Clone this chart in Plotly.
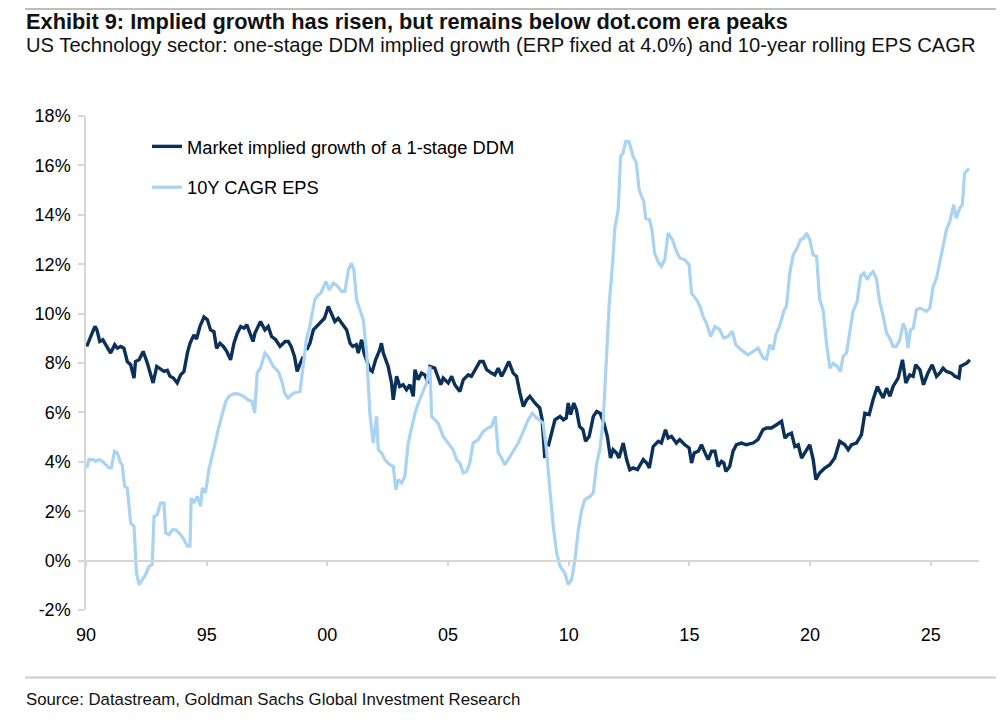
import plotly.graph_objects as go

# ---------------- data ----------------
ddm_years = [
    1990.03, 1990.19, 1990.37, 1990.45, 1990.57, 1990.70, 1990.82, 1991.02, 1991.19, 1991.30,
    1991.44, 1991.57, 1991.71, 1991.85, 1991.99, 1992.05, 1992.20, 1992.37, 1992.54, 1992.65,
    1992.78, 1992.93, 1993.10, 1993.23, 1993.37, 1993.48, 1993.62, 1993.78, 1993.92, 1994.06,
    1994.20, 1994.31, 1994.47, 1994.58, 1994.72, 1994.89, 1995.03, 1995.16, 1995.30, 1995.41,
    1995.55, 1995.69, 1995.83, 1995.99, 1996.13, 1996.27, 1996.41, 1996.55, 1996.66, 1996.82,
    1996.92, 1997.00, 1997.23, 1997.41, 1997.55, 1997.69, 1997.86, 1998.04, 1998.25, 1998.38,
    1998.50, 1998.64, 1998.75, 1998.88, 1999.00, 1999.07, 1999.14, 1999.28, 1999.42, 1999.55,
    1999.72, 1999.88, 2000.04, 2000.17, 2000.31, 2000.45, 2000.59, 2000.80, 2000.94, 2001.05,
    2001.20, 2001.28, 2001.42, 2001.52, 2001.76, 2001.86, 2002.00, 2002.17, 2002.24, 2002.32,
    2002.52, 2002.66, 2002.73, 2002.87, 2003.00, 2003.14, 2003.28, 2003.42, 2003.56, 2003.63,
    2003.76, 2003.90, 2004.04, 2004.18, 2004.25, 2004.45, 2004.70, 2004.80, 2005.01, 2005.15,
    2005.28, 2005.49, 2005.63, 2005.84, 2005.97, 2006.11, 2006.32, 2006.46, 2006.60, 2006.80,
    2006.94, 2007.08, 2007.22, 2007.36, 2007.52, 2007.70, 2007.84, 2007.98, 2008.12, 2008.26,
    2008.39, 2008.60, 2008.80, 2008.90, 2009.01, 2009.08, 2009.15, 2009.29, 2009.43, 2009.64,
    2009.78, 2009.90, 2009.98, 2010.08, 2010.21, 2010.32, 2010.45, 2010.59, 2010.70, 2010.85,
    2011.02, 2011.16, 2011.30, 2011.45, 2011.60, 2011.73, 2011.84, 2011.98, 2012.08, 2012.26,
    2012.40, 2012.53, 2012.67, 2012.85, 2013.09, 2013.23, 2013.34, 2013.50, 2013.71, 2013.84,
    2014.01, 2014.12, 2014.26, 2014.46, 2014.60, 2014.81, 2014.99, 2015.09, 2015.20, 2015.37,
    2015.50, 2015.68, 2015.78, 2015.92, 2016.06, 2016.19, 2016.33, 2016.43, 2016.51, 2016.67,
    2016.81, 2016.95, 2017.16, 2017.36, 2017.64, 2017.84, 2018.05, 2018.19, 2018.40, 2018.61,
    2018.82, 2018.96, 2019.09, 2019.23, 2019.37, 2019.51, 2019.65, 2019.78, 2019.99, 2020.13,
    2020.24, 2020.40, 2020.61, 2020.82, 2021.02, 2021.23, 2021.44, 2021.58, 2021.72, 2021.92,
    2022.13, 2022.27, 2022.45, 2022.61, 2022.79, 2022.92, 2023.03, 2023.17, 2023.31, 2023.44,
    2023.65, 2023.83, 2023.97, 2024.13, 2024.27, 2024.38, 2024.55, 2024.70, 2024.88, 2025.06,
    2025.24, 2025.37, 2025.51, 2025.65, 2025.86, 2026.00, 2026.17, 2026.23, 2026.41, 2026.50,
    2026.62,
]
ddm_growth = [
    8.67, 9.07, 9.48, 9.35, 8.87, 8.94, 8.74, 8.40, 8.74, 8.60,
    8.67, 8.60, 8.06, 7.93, 7.39, 8.06, 8.13, 8.47, 8.00, 7.66,
    7.19, 7.86, 7.73, 7.66, 7.70, 7.46, 7.39, 7.19, 7.52, 7.66,
    8.40, 8.80, 9.14, 8.97, 9.48, 9.86, 9.75, 9.34, 9.27, 8.60,
    8.80, 8.67, 8.47, 8.13, 8.80, 9.21, 9.48, 9.41, 9.55, 9.07,
    8.87, 9.21, 9.68, 9.34, 9.48, 9.07, 8.94, 8.67, 8.87, 8.87,
    8.67, 8.26, 7.66, 7.99, 8.26, None, 8.53, 8.80, 9.34, 9.48,
    9.68, 9.81, 10.29, 10.02, 9.68, 9.81, 9.61, 9.34, 8.80, 8.67,
    8.74, 8.40, 8.94, 8.40, 7.73, 7.66, 8.13, 8.53, 8.80, 8.40,
    7.86, 7.19, 6.51, 7.46, 7.05, 7.12, 6.92, 7.12, 6.65, 7.73,
    7.32, 7.59, 7.52, 7.19, 7.86, 7.79, 7.12, 7.39, 7.19, 7.46,
    7.12, 6.85, 7.32, 7.52, 7.46, 7.73, 8.06, 8.06, 7.73, 7.59,
    7.52, 7.79, 7.46, 7.73, 8.06, 7.59, 7.46, 6.78, 6.24, 6.51,
    6.65, 6.38, 6.18, 5.70, 4.15, None, 4.62, 5.16, 5.70, 5.84,
    5.70, 5.77, 6.38, 5.91, 6.38, 6.11, 5.43, 5.30, 4.83, 5.03,
    5.84, 6.04, 5.97, 5.60, 5.03, 4.15, 4.49, 4.36, 4.15, 4.76,
    4.09, 3.68, 3.75, 3.68, 4.09, 3.95, 3.75, 4.62, 4.83, 4.76,
    5.30, 4.96, 5.03, 4.76, 4.90, 4.69, 4.56, 3.95, 4.36, 4.43,
    4.69, 4.29, 4.09, 4.43, 4.43, 3.81, 4.02, 3.95, 3.61, 3.81,
    4.43, 4.69, 4.76, 4.69, 4.76, 4.90, 5.30, 5.37, 5.37, 5.50,
    5.64, 4.96, 5.10, 5.16, 4.62, 4.69, 4.15, 4.36, 4.69, 4.09,
    3.28, 3.55, 3.75, 3.88, 4.15, 4.83, 4.69, 4.49, 4.69, 4.76,
    5.10, 5.97, 5.91, 6.51, 7.05, 6.78, 6.58, 6.98, 6.65, 7.05,
    7.39, 8.13, 7.19, 7.52, 7.46, 7.93, 7.73, 7.12, 7.59, 7.93,
    7.46, 7.59, 7.79, 7.66, 7.59, 7.46, 7.39, 7.86, 7.93, 8.00,
    8.13,
]

eps_years = [
    1990.03, 1990.12, 1990.30, 1990.40, 1990.55, 1990.68, 1990.95, 1991.05, 1991.18, 1991.30,
    1991.40, 1991.50, 1991.60, 1991.71, 1991.85, 1991.99, 1992.09, 1992.20, 1992.34, 1992.47,
    1992.61, 1992.74, 1992.82, 1992.95, 1993.09, 1993.23, 1993.30, 1993.44, 1993.58, 1993.72,
    1993.92, 1994.06, 1994.20, 1994.31, 1994.36, 1994.47, 1994.61, 1994.75, 1994.82, 1994.95,
    1995.09, 1995.23, 1995.37, 1995.51, 1995.62, 1995.79, 1995.92, 1996.13, 1996.33, 1996.53,
    1996.74, 1996.88, 1996.99, 1997.09, 1997.23, 1997.41, 1997.55, 1997.76, 1997.96, 1998.10,
    1998.23, 1998.37, 1998.51, 1998.66, 1998.87, 1998.97, 1999.13, 1999.27, 1999.48, 1999.62,
    1999.73, 1999.94, 2000.08, 2000.24, 2000.38, 2000.59, 2000.73, 2000.87, 2001.00, 2001.10,
    2001.21, 2001.35, 2001.49, 2001.63, 2001.76, 2001.90, 2002.04, 2002.11, 2002.25, 2002.38,
    2002.59, 2002.73, 2002.84, 2002.94, 2003.08, 2003.21, 2003.35, 2003.49, 2003.63, 2003.77,
    2003.97, 2004.11, 2004.25, 2004.32, 2004.46, 2004.59, 2004.80, 2005.01, 2005.21, 2005.35,
    2005.49, 2005.63, 2005.77, 2005.90, 2006.04, 2006.25, 2006.46, 2006.66, 2006.80, 2006.96,
    2007.08, 2007.22, 2007.35, 2007.49, 2007.70, 2007.91, 2008.12, 2008.32, 2008.50, 2008.67,
    2008.94, 2009.08, 2009.22, 2009.36, 2009.50, 2009.64, 2009.84, 2009.98, 2010.12, 2010.26,
    2010.40, 2010.54, 2010.67, 2010.88, 2011.02, 2011.16, 2011.29, 2011.43, 2011.57, 2011.68,
    2011.82, 2011.91, 2012.05, 2012.15, 2012.25, 2012.36, 2012.50, 2012.67, 2012.80, 2012.92,
    2013.02, 2013.11, 2013.19, 2013.35, 2013.45, 2013.56, 2013.70, 2013.84, 2013.98, 2014.12,
    2014.30, 2014.44, 2014.60, 2014.81, 2014.99, 2015.09, 2015.30, 2015.44, 2015.57, 2015.71,
    2015.88, 2016.06, 2016.26, 2016.42, 2016.60, 2016.78, 2016.92, 2017.15, 2017.43, 2017.64,
    2017.85, 2018.06, 2018.20, 2018.33, 2018.47, 2018.58, 2018.74, 2018.93, 2019.02, 2019.16,
    2019.30, 2019.47, 2019.60, 2019.74, 2019.85, 2019.99, 2020.13, 2020.27, 2020.40, 2020.54,
    2020.68, 2020.82, 2020.96, 2021.12, 2021.26, 2021.37, 2021.51, 2021.64, 2021.78, 2021.95,
    2022.09, 2022.23, 2022.37, 2022.48, 2022.61, 2022.75, 2022.88, 2023.02, 2023.17, 2023.30,
    2023.44, 2023.58, 2023.72, 2023.86, 2023.97, 2024.06, 2024.16, 2024.27, 2024.41, 2024.55,
    2024.69, 2024.82, 2024.96, 2025.10, 2025.24, 2025.37, 2025.51, 2025.65, 2025.79, 2025.95,
    2026.06, 2026.20, 2026.31, 2026.40, 2026.59,
]
eps_cagr = [
    3.75, 4.09, 4.09, 4.02, 4.09, 4.02, 3.75, 3.75, 4.42, 4.36,
    4.02, 3.88, 3.01, 2.94, 1.52, 1.39, -0.50, -0.97, -0.77, -0.57,
    -0.23, -0.16, 1.79, 1.86, 2.33, 2.33, 1.12, 1.05, 1.25, 1.25,
    1.05, 0.85, 0.58, 0.58, 2.54, 2.33, 2.60, 2.20, 2.94, 2.74,
    3.68, 4.22, 4.83, 5.43, 5.84, 6.45, 6.65, 6.76, 6.74, 6.65,
    6.49, 6.45, 5.97, 7.59, 7.79, 8.40, 8.26, 7.86, 7.66, 7.32,
    6.78, 6.58, 6.72, 6.80, 6.85, 7.73, 8.94, 9.48, 10.56, 10.76,
    10.83, 11.30, 10.96, 11.23, 11.16, 10.90, 10.90, 11.77, 12.04, 11.77,
    10.56, 10.16, 9.75, 8.40, 5.97, 4.76, 5.84, 4.49, 4.36, 4.09,
    3.88, 3.82, 2.87, 3.28, 3.14, 3.41, 4.76, 5.37, 5.97, 6.38,
    6.85, 7.19, 7.86, 5.84, 5.70, 5.57, 5.03, 4.76, 4.49, 4.09,
    3.95, 3.55, 3.61, 3.95, 4.76, 4.90, 5.23, 5.37, 5.43, 5.84,
    4.36, 4.15, 3.88, 4.09, 4.43, 4.76, 5.23, 5.70, 5.97, 5.77,
    5.57, 4.49, 2.87, 1.39, 0.31, -0.23, -0.50, -0.97, -0.77, 0.04,
    1.25, 2.06, 2.47, 2.60, 2.74, 3.95, 4.49, 5.70, 8.30, 10.42,
    12.04, 13.46, 14.20, 16.36, 16.50, 16.96, 16.96, 16.36, 16.09, 15.01,
    14.74, 14.54, 13.86, 13.80, 13.39, 12.45, 12.11, 11.91, 12.18, 13.26,
    12.98, 12.58, 12.25, 12.18, 11.97, 10.83, 10.56, 10.29, 9.88, 9.61,
    9.07, 9.48, 9.34, 9.01, 9.07, 9.28, 8.74, 8.53, 8.33, 8.47,
    8.60, 8.20, 8.16, 8.74, 8.53, 9.14, 9.50, 10.15, 10.29, 11.64,
    12.38, 12.65, 12.99, 13.05, 13.26, 12.99, 12.38, 12.31, 10.56, 10.15,
    8.80, 7.79, 7.99, 7.86, 7.66, 8.27, 8.40, 9.21, 10.09, 10.49,
    11.50, 11.64, 11.37, 11.57, 11.70, 11.43, 10.49, 9.95, 9.21, 9.01,
    8.67, 8.67, 8.94, 9.61, 9.34, 8.60, 9.34, 9.41, 10.15, 10.22,
    10.15, 10.09, 10.22, 11.10, 11.43, 12.04, 12.58, 13.39, 13.73, 14.40,
    13.86, 14.27, 14.40, 15.68, 15.88,
]

series_names = ["Market implied growth of a 1-stage DDM", "10Y CAGR EPS"]
x_tick_vals = [1990, 1995, 2000, 2005, 2010, 2015, 2020, 2025]
x_tick_labels = ["90", "95", "00", "05", "10", "15", "20", "25"]
y_tick_vals = [-2, 0, 2, 4, 6, 8, 10, 12, 14, 16, 18]
y_tick_labels = ["-2%", "0%", "2%", "4%", "6%", "8%", "10%", "12%", "14%", "16%", "18%"]

title_text = "Exhibit 9: Implied growth has risen, but remains below dot.com era peaks"
subtitle_text = ("US Technology sector: one-stage DDM implied growth (ERP fixed at 4.0%) "
                 "and 10-year rolling EPS CAGR")
source_text = "Source: Datastream, Goldman Sachs Global Investment Research"

# ---------------- layout geometry ----------------
# The page body has an 8px margin, so the figure is sized to fill the rest
# of the 1004x720 window; positions below are given in window pixels.
OFF = 8
W, H = 1004 - OFF, 720 - OFF
PLOT_LEFT, PLOT_RIGHT, PLOT_TOP, PLOT_BOTTOM = 86, 979, 116, 610.4  # window px
L = PLOT_LEFT - OFF
T = PLOT_TOP - OFF
PW = PLOT_RIGHT - PLOT_LEFT
PH = PLOT_BOTTOM - PLOT_TOP
R = W - L - PW
B = H - T - PH


def px(xp):
    return (xp - PLOT_LEFT) / PW


def py(yp):
    return (PLOT_BOTTOM - yp) / PH


DARK = "#0b3059"
LIGHT = "#a9d3f2"
AXIS = "#d6d6d6"
CHART_FONT = "Liberation Sans, Arial, sans-serif"
HEAD_FONT = "Liberation Sans, Arial, sans-serif"

fig = go.Figure()
fig.add_trace(go.Scatter(
    x=ddm_years, y=ddm_growth, mode="lines", name=series_names[0],
    line=dict(color=DARK, width=3.4), legendgroup="a", connectgaps=False,
    xaxis="x", yaxis="y",
))
# second series sits on the overlaying x-axis that carries the bottom labels
fig.add_trace(go.Scatter(
    x=eps_years, y=eps_cagr, mode="lines", name=series_names[1],
    line=dict(color=LIGHT, width=3.2), legendgroup="b",
    xaxis="x2", yaxis="y",
))

fig.update_layout(
    width=W, height=H,
    margin=dict(l=L, r=R, t=T, b=B, pad=0),
    paper_bgcolor="white", plot_bgcolor="white",
    font=dict(family=CHART_FONT, size=18, color="black"),
    showlegend=True,
    legend=dict(
        x=px(147), y=py(128), xanchor="left", yanchor="top",
        bgcolor="rgba(0,0,0,0)", borderwidth=0,
        font=dict(family=CHART_FONT, size=18.3, color="black"),
        tracegroupgap=14, itemwidth=30, traceorder="grouped",
    ),
    xaxis=dict(
        range=[1990, 2027], anchor="free", position=py(561),
        showline=True, linecolor=AXIS, linewidth=1.5,
        ticks="outside", ticklen=5, tickcolor=AXIS, tickwidth=1.5,
        tickvals=x_tick_vals, showticklabels=False,
        showgrid=False, zeroline=False,
    ),
    xaxis2=dict(
        range=[1990, 2027], overlaying="x", anchor="y", side="bottom",
        tickvals=x_tick_vals, ticktext=x_tick_labels,
        ticks="outside", ticklen=8, tickcolor="rgba(0,0,0,0)",
        showline=False, showgrid=False, zeroline=False,
        tickfont=dict(family=CHART_FONT, size=18, color="black"),
    ),
    yaxis=dict(
        range=[-2, 18], tickvals=y_tick_vals, ticktext=y_tick_labels,
        showline=True, linecolor=AXIS, linewidth=1.5,
        ticks="outside", ticklen=6, tickcolor=AXIS, tickwidth=1.5,
        showgrid=False, zeroline=False,
        tickfont=dict(family=CHART_FONT, size=18, color="black"),
        ticklabelstandoff=4,
    ),
)

fig.add_annotation(
    text="<b>" + title_text + "</b>", xref="paper", yref="paper",
    x=px(24), y=py(21), xanchor="left", yanchor="middle", showarrow=False,
    font=dict(family=HEAD_FONT, size=21.8, color="#111111"),
)
fig.add_annotation(
    text=subtitle_text, xref="paper", yref="paper",
    x=px(24), y=py(45), xanchor="left", yanchor="middle", showarrow=False,
    font=dict(family=HEAD_FONT, size=20.2, color="#111111"),
)
fig.add_annotation(
    text=source_text, xref="paper", yref="paper",
    x=px(24), y=py(700), xanchor="left", yanchor="middle", showarrow=False,
    font=dict(family=HEAD_FONT, size=16.8, color="#111111"),
)

fig.add_shape(type="line", xref="paper", yref="paper",
              x0=px(25), x1=px(1004), y0=py(9), y1=py(9),
              line=dict(color="#bdbdbd", width=2))
fig.add_shape(type="line", xref="paper", yref="paper",
              x0=px(25), x1=px(1000), y0=py(678), y1=py(678),
              line=dict(color="#cccccc", width=2))

fig.write_html("out.html")
